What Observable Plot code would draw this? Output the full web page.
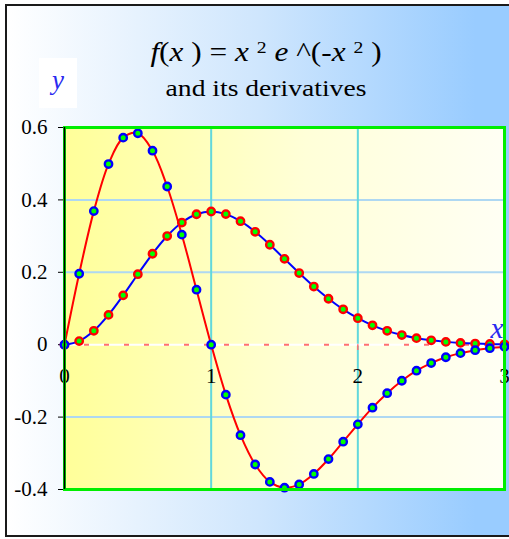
<!DOCTYPE html>
<html>
<head>
<meta charset="utf-8">
<script src="https://cdn.jsdelivr.net/npm/d3@7"></script>
<script src="https://cdn.jsdelivr.net/npm/@observablehq/plot@0.6"></script>
<style>
  html, body { margin: 0; padding: 0; overflow: hidden; width: 509px; height: 539px; }
  #panel {
    position: absolute; left: 5px; top: 4px; width: 508px; height: 533px;
    box-sizing: border-box; border: 2px solid #1a1a1a;
    background: linear-gradient(to right, #ffffff 0%, #cfe6fd 50%, #99ccff 93%);
  }
  #chart { position: absolute; left: 0; top: 0; }
  .serif { font-family: 'Liberation Serif', 'Times New Roman', serif; color: #000; }
  #title { position: absolute; left: 0; width: 532px; top: 39px; text-align: center;
    font-size: 27px; line-height: 27px; white-space: pre; transform: scaleX(1.16); }
  #title sup { font-size: 17px; position: relative; top: -0.5em; vertical-align: baseline; }
  #subtitle { position: absolute; left: 0; width: 532px; top: 76px; text-align: center;
    font-size: 24px; line-height: 24px; transform: scaleX(1.15); }
  #ybox { position: absolute; left: 39px; top: 58px; width: 38px; height: 50px; background: #ffffff; }
  #ylab { position: absolute; left: 39px; width: 38px; top: 67px; text-align: center;
    font-size: 27px; line-height: 27px; font-style: italic; color: #2a2af0; }
  #xlab { position: absolute; left: 482px; width: 30px; top: 314px; text-align: center;
    font-size: 29px; line-height: 29px; font-style: italic; color: #2a2af0; }
</style>
</head>
<body>
<div id="panel"></div>
<div id="chart"></div>
<div id="title" class="serif"><i>f</i>(<i>x</i> ) = <i>x</i> <sup>2</sup> <i>e</i> ^(-<i>x</i> <sup>2</sup> )</div>
<div id="subtitle" class="serif">and its derivatives</div>
<div id="ybox"></div>
<div id="ylab" class="serif">y</div>
<div id="xlab" class="serif">x</div>
<script>
// Sample points of f(x) = x^2 e^(-x^2) and its first derivative
const xs = [0, 0.1, 0.2, 0.3, 0.4, 0.5, 0.6, 0.7, 0.8, 0.9, 1.0,
            1.1, 1.2, 1.3, 1.4, 1.5, 1.6, 1.7, 1.8, 1.9, 2.0,
            2.1, 2.2, 2.3, 2.4, 2.5, 2.6, 2.7, 2.8, 2.9, 3.0];
const fVals = [0, 0.0099, 0.0384, 0.0823, 0.1363, 0.1947, 0.2512, 0.3002, 0.3375, 0.3603, 0.3679,
               0.3608, 0.3412, 0.3118, 0.2761, 0.2371, 0.1979, 0.1606, 0.1269, 0.0977, 0.0733,
               0.0536, 0.0383, 0.0267, 0.0181, 0.0121, 0.0078, 0.0050, 0.0031, 0.0019, 0.0011];
const dVals = [0, 0.196, 0.369, 0.499, 0.572, 0.584, 0.536, 0.437, 0.304, 0.152, 0,
               -0.138, -0.250, -0.331, -0.379, -0.395, -0.386, -0.357, -0.316, -0.268, -0.220,
               -0.174, -0.134, -0.0996, -0.0718, -0.0508, -0.0346, -0.0233, -0.0151, -0.0097, -0.0059];
const xTicks = [0, 1, 2, 3];
const yTicks = [-0.4, -0.2, 0, 0.2, 0.4, 0.6];
const xGrid = [1, 2];
const yGrid = [-0.2, 0.2, 0.4];

const data = xs.map((x, i) => ({x, f: fVals[i], d: dVals[i]}));

// gradient used for the plotting area
const defs = () => {
  const g = d3.create("svg:defs");
  const lg = g.append("linearGradient").attr("id", "areaFill")
    .attr("x1", 0).attr("x2", 1).attr("y1", 0).attr("y2", 0);
  lg.append("stop").attr("offset", "0%").attr("stop-color", "#ffff99");
  lg.append("stop").attr("offset", "55%").attr("stop-color", "#ffffd8");
  lg.append("stop").attr("offset", "100%").attr("stop-color", "#fffff4");
  return g.node();
};

const chart = Plot.plot({
  width: 509,
  height: 539,
  marginLeft: 64,
  marginRight: 5,
  marginTop: 127,
  marginBottom: 50,
  style: {background: "transparent", fontFamily: "'Liberation Serif', 'Times New Roman', serif", fontSize: "21px", color: "#000"},
  x: {domain: [0, 3], axis: null},
  y: {domain: [-0.4, 0.6], axis: null},
  marks: [
    defs,
    Plot.frame({fill: "url(#areaFill)", stroke: "none"}),
    Plot.ruleY(yGrid, {stroke: "#aed8f2", strokeWidth: 2}),
    Plot.ruleX(xGrid, {stroke: "#62d8dc", strokeWidth: 2}),
    Plot.ruleY([0], {stroke: "#ffffff", strokeWidth: 2}),
    Plot.ruleY([0], {stroke: "#ff7070", strokeWidth: 2, strokeDasharray: "5,15"}),
    Plot.ruleX(xTicks, {y1: 0, y2: -0.016, stroke: "#ff7070", strokeWidth: 1.5}),
    Plot.text(xTicks, {x: d => d, y: 0, text: d => String(d), dy: 32, lineAnchor: "middle", fill: "#000"}),
    Plot.axisY(yTicks, {tickSize: 6, tickPadding: 11, tickFormat: d => String(d), label: null, stroke: "#000"}),
    // f(x)
    Plot.line(data, {x: "x", y: "f", stroke: "#0000ff", strokeWidth: 2, curve: "catmull-rom"}),
    Plot.dot(data, {x: "x", y: "f", r: 3.7, fill: "#00ff00", stroke: "#ff0000", strokeWidth: 2.4}),
    // f'(x)
    Plot.line(data, {x: "x", y: "d", stroke: "#ff0000", strokeWidth: 2, curve: "catmull-rom"}),
    Plot.dot(data, {x: "x", y: "d", r: 3.7, fill: "#00ff00", stroke: "#0000ff", strokeWidth: 2.4}),
    Plot.frame({stroke: "#00ee00", strokeWidth: 3, fill: "none"}),
    Plot.ruleX([0], {stroke: "#000", strokeWidth: 1.5})
  ]
});
document.getElementById("chart").appendChild(chart);
</script>
</body>
</html>
